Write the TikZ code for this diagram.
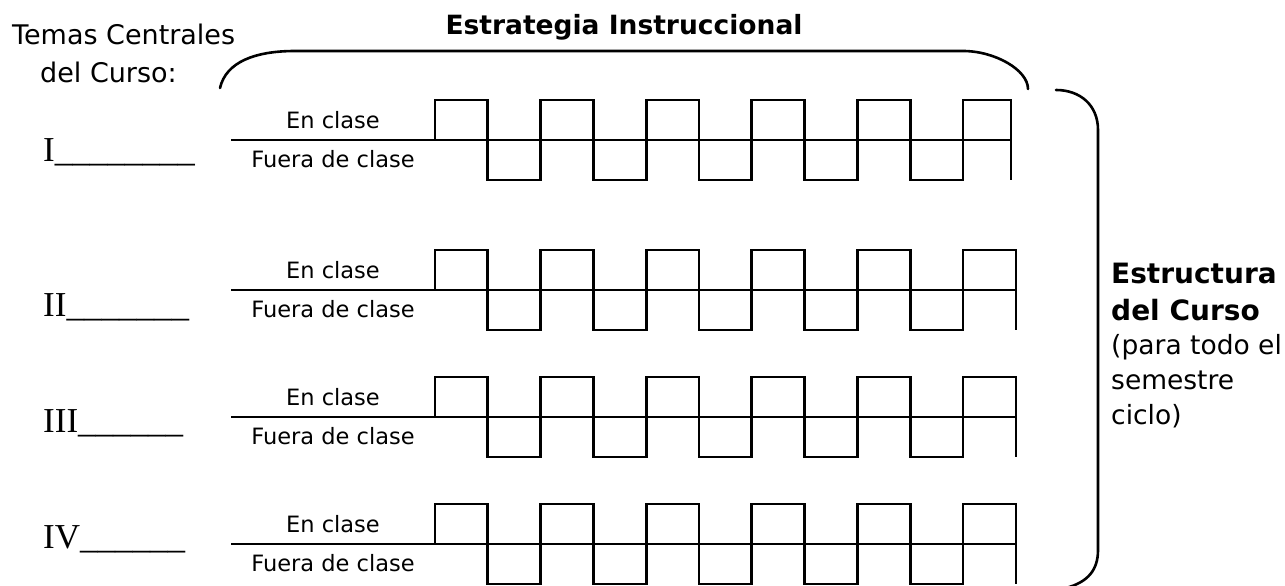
\documentclass[tikz,border=0pt]{standalone}
\usepackage{fontspec}
\setmainfont{DejaVu Sans}
\newfontfamily\numfont{Liberation Serif}
\usepackage{tikz}

\begin{document}
\begin{tikzpicture}[x=1pt, y=-1pt,
    wave/.style={line width=2.9pt, line join=miter},
    brace/.style={line width=2.6pt, line cap=round},
    txt/.style={inner sep=0pt, anchor=base west},
    head/.style={font=\fontsize{27}{32}\selectfont},
    rowtxt/.style={inner sep=0pt, anchor=base, font=\fontsize{22.5}{26}\selectfont}]
    \useasboundingbox (0,0) rectangle (1285,586);

    % titulos
    \node[txt, head] (temas) at (12,45) {Temas Centrales};
    \node[txt, head] (curso) at (40,82) {del Curso:};
    \node[inner sep=0pt, anchor=base, font=\fontsize{26.5}{30}\selectfont\bfseries] (estrategia) at (624,35) {Estrategia Instruccional};

    % llave superior
    \draw[brace] (220,88) .. controls (226,62) and (255,51) .. (295,51) -- (963,51)
        .. controls (995,51) and (1028,70) .. (1028,89);

    % llave derecha
    \draw[brace] (1056,90) .. controls (1080,90) and (1098,105) .. (1098,130) -- (1098,550)
        .. controls (1098,570) and (1088,582) .. (1066,588);

    % temas y ondas
    \foreach \k/\m/\xe/\nb/\lbl in {1/140/1011/161/I\_\_\_\_\_\_\_\_,
                                    2/290/1016/316/II\_\_\_\_\_\_\_,
                                    3/417/1016/432/III\_\_\_\_\_\_,
                                    4/544/1016/548/IV\_\_\_\_\_\_} {
        \node[txt, font=\fontsize{35}{40}\numfont] (tema\k) at (43,\nb) {\lbl};
        \node[rowtxt] (en\k) at (333,\m-12) {En clase};
        \node[rowtxt] (fuera\k) at (333,\m+27) {Fuera de clase};
        \draw[wave] (231,\m) -- (\xe,\m);
        \draw[wave] (435,\m) \foreach \i in {1,...,5} {
            -- ++(0,-40) -- ++(52.8,0) -- ++(0,80) -- ++(52.8,0) -- ++(0,-40)
        } -- ++(0,-40) -- (\xe,\m-40) -- (\xe,\m+40);
    }

    % estructura
    \node[txt, font=\fontsize{28}{32}\selectfont\bfseries] (estr1) at (1111,283) {Estructura};
    \node[txt, font=\fontsize{28}{32}\selectfont\bfseries] (estr2) at (1111,320) {del Curso};
    \node[txt, font=\fontsize{26.5}{32}\selectfont] (estr3) at (1111,354) {(para todo el};
    \node[txt, font=\fontsize{26.5}{32}\selectfont] (estr4) at (1111,389) {semestre};
    \node[txt, font=\fontsize{26.5}{32}\selectfont] (estr5) at (1111,424) {ciclo)};
\end{tikzpicture}
\end{document}
